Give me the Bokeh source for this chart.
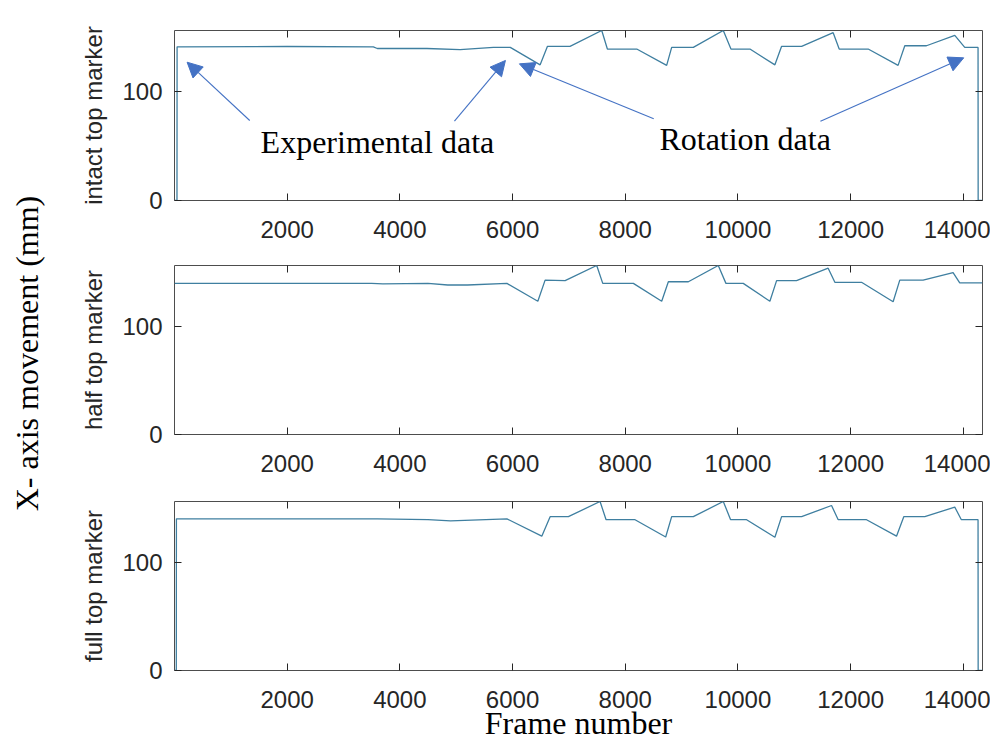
from bokeh.plotting import figure
from bokeh.layouts import column, row
from bokeh.models import Range1d, FixedTicker, LinearAxis, Arrow, NormalHead, Label
from bokeh.embed import file_html
from bokeh.resources import INLINE

# ---------------- data ----------------
x_ticks = [2000, 4000, 6000, 8000, 10000, 12000, 14000]
y_ticks = [0, 100]
panel_labels = ["intact top marker", "half top marker", "full top marker"]

frames_intact = [1, 45, 47, 2000, 3530, 3600, 4480, 5070, 5660, 5960, 6490, 6620,
                 7020, 7583, 7683, 8204, 8735, 8824, 9208, 9740, 9876, 10213,
                 10656, 10775, 11130, 11690, 11797, 12311, 12842, 12961, 13345,
                 13848, 14025, 14261, 14263, 14340]
values_intact = [0, 0, 141, 141.3, 141, 139.5, 139.5, 138.5, 140.5, 140.5, 124.5, 141.5,
                 141.5, 156, 139, 139, 124, 140.5, 140.5, 156, 139, 139,
                 124.5, 141.5, 141.5, 154, 139, 139, 124, 142, 142,
                 151.5, 140.5, 140.5, 0, 0]

frames_half = [1, 3500, 3700, 4500, 4850, 5200, 5900, 6449, 6578, 6933, 7494, 7601,
               8144, 8647, 8765, 9120, 9651, 9787, 10094, 10567, 10686, 11040,
               11601, 11720, 12193, 12754, 12872, 13286, 13818, 13936, 14340]
values_half = [139.5, 139.5, 139, 139.5, 138, 138, 139.5, 123, 142.5, 142, 156, 139.5,
               139.5, 123, 141, 141, 156, 139.5, 139.5, 123, 142, 142,
               153.5, 140.5, 140.5, 122.5, 142.5, 142.5, 149.5, 140, 140]

frames_full = [1, 33, 35, 3600, 4500, 4900, 5900, 6519, 6667, 6991, 7553, 7660,
               8174, 8718, 8824, 9208, 9740, 9870, 10154, 10656, 10775, 11130,
               11661, 11779, 12282, 12814, 12943, 13316, 13848, 13965, 14261, 14263, 14340]
values_full = [0, 0, 140, 140, 139.2, 138.2, 140, 124, 142, 142, 156, 139.2,
               139.2, 123.2, 142, 142, 156, 139.2, 139.2, 123, 142, 142,
               152.3, 139.2, 139.2, 124, 142, 142, 150.8, 139.2, 139.2, 0, 0]

# annotation anchor points (frame, value) in panel 1
arrow_tails = [(1336, 73.4), (4969, 72.8), (8506, 75.0), (11464, 72.8)]
arrow_heads = [(225, 126.9), (5874, 128.5), (6122, 125.4), (14007, 130.9)]
annot_texts = [("Experimental data", 3602, 54.1), ("Rotation data", 10128, 56.4)]

y_title = "X- axis movement (mm)"
x_title = "Frame number"

# ---------------- styling ----------------
LINE = "#3f7fa0"
AX = "#262626"
BOX = "#4d4d4d"
BLUE = "#4472C4"
SANS = "Liberation Sans"
SERIF = "Liberation Serif"

TITLE_W = 60
TOTAL_H = 747

xr = Range1d(1, 14340)


def make_panel(label, frames, values, height, top, bottom):
    p = figure(width=990 - TITLE_W, height=height, x_range=xr, y_range=Range1d(0, 156),
               output_backend="svg", toolbar_location=None,
               min_border_left=174 - TITLE_W, min_border_right=8,
               min_border_top=top, min_border_bottom=bottom)
    p.xgrid.visible = False
    p.ygrid.visible = False
    p.outline_line_color = BOX
    p.outline_line_width = 1
    p.outline_line_alpha = 1
    p.background_fill_color = "white"
    p.border_fill_color = "white"
    xa = p.below[0]
    ya = p.left[0]
    xa.ticker = FixedTicker(ticks=x_ticks)
    ya.ticker = FixedTicker(ticks=y_ticks)
    for ax in (xa, ya):
        ax.axis_line_color = None
        ax.major_tick_in = 7
        ax.major_tick_out = 0
        ax.major_tick_line_color = AX
        ax.minor_tick_line_color = None
        ax.major_label_text_font = SANS
        ax.major_label_text_font_size = "24px"
        ax.major_label_text_color = AX
    xa.major_label_standoff = 20
    ya.major_label_standoff = 12
    ya.axis_label = label
    ya.axis_label_text_font = SANS
    ya.axis_label_text_font_size = "24px"
    ya.axis_label_text_font_style = "normal"
    ya.axis_label_text_color = AX
    ya.axis_label_standoff = 12

    top_ax = LinearAxis(ticker=FixedTicker(ticks=x_ticks),
                        major_label_overrides={t: "" for t in x_ticks},
                        major_label_text_font_size="8px", major_label_standoff=0,
                        axis_line_color=None, major_tick_in=7, major_tick_out=0,
                        major_tick_line_color=AX, minor_tick_line_color=None)
    p.add_layout(top_ax, "above")
    right_ax = LinearAxis(ticker=FixedTicker(ticks=y_ticks),
                          major_label_overrides={t: "" for t in y_ticks},
                          major_label_text_font_size="8px", major_label_standoff=0,
                          axis_line_color=None, major_tick_in=7, major_tick_out=0,
                          major_tick_line_color=AX, minor_tick_line_color=None)
    p.add_layout(right_ax, "right")

    p.line(frames, values, line_color=LINE, line_width=1.3)
    return p, xa


p1, _ = make_panel(panel_labels[0], frames_intact, values_intact, 247, 30, 47)
p2, _ = make_panel(panel_labels[1], frames_half, values_half, 232, 18, 45)
p3, xa3 = make_panel(panel_labels[2], frames_full, values_full, 268, 22, 77)

for (xs, ys), (xe, ye) in zip(arrow_tails, arrow_heads):
    p1.add_layout(Arrow(end=NormalHead(size=15, fill_color=BLUE, line_color=BLUE),
                        x_start=xs, y_start=ys, x_end=xe, y_end=ye,
                        line_color=BLUE, line_width=1.1))
for txt, tx, ty in annot_texts:
    p1.add_layout(Label(x=tx, y=ty, text=txt, text_font=SERIF, text_font_size="32px",
                        text_align="center", text_baseline="middle",
                        text_color="black"))

# overall x title on the bottom panel
xa3.axis_label = x_title
xa3.axis_label_text_font = SERIF
xa3.axis_label_text_font_size = "32px"
xa3.axis_label_text_font_style = "normal"
xa3.axis_label_text_color = "black"
xa3.axis_label_standoff = -6

# overall y title: a narrow strip figure spanning the full height (pixel-scaled ranges)
tf = figure(width=TITLE_W, height=TOTAL_H, x_range=Range1d(0, TITLE_W),
            y_range=Range1d(0, TOTAL_H), output_backend="svg", toolbar_location=None,
            min_border=0)
tf.axis.visible = False
tf.xgrid.visible = False
tf.ygrid.visible = False
tf.outline_line_color = None
tf.border_fill_color = "white"
tf.add_layout(Label(x=26, y=TOTAL_H - 353, text=y_title, angle=1.5707963267948966,
                    text_font=SERIF, text_font_size="32px", text_align="center",
                    text_baseline="middle", text_color="black"))

layout = row(tf, column(p1, p2, p3))
open("out.html", "w").write(file_html(layout, INLINE))
